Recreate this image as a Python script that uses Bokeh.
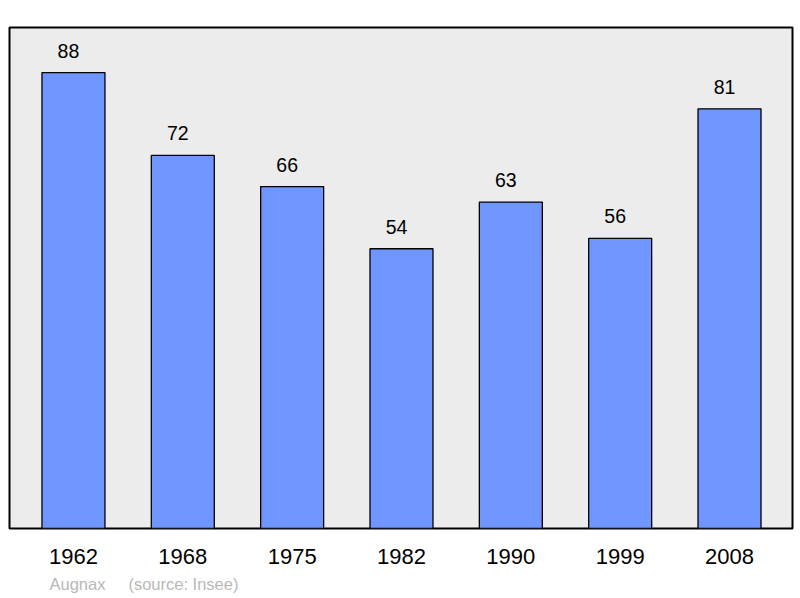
from bokeh.plotting import figure
from bokeh.models import Range1d, FixedTicker, LabelSet, ColumnDataSource, Title
from bokeh.core.properties import value
from bokeh.embed import file_html
from bokeh.resources import INLINE

# data
years = ["1962", "1968", "1975", "1982", "1990", "1999", "2008"]
population = [88, 72, 66, 54, 63, 56, 81]
pos = list(range(len(years)))

src = ColumnDataSource(data=dict(x=pos, y=population, lbl=[str(v) for v in population]))

p = figure(width=800, height=598, output_backend="svg", toolbar_location=None,
           x_range=Range1d(-0.585, 6.576), y_range=Range1d(0, 96.7),
           min_border_left=9, min_border_right=8, min_border_top=27, min_border_bottom=70)

p.background_fill_color = "#ececec"
p.border_fill_color = "white"
p.outline_line_color = "black"
p.outline_line_width = 2
p.grid.visible = False
p.yaxis.visible = False

p.vbar(x="x", top="y", width=0.576, source=src, fill_color="#6f96ff",
       line_color="black", line_width=1.3)

# value labels sit a little left of the bar centre, as in the original
labels = LabelSet(x="x", y="y", text="lbl", source=src, text_align="center",
                  text_baseline="alphabetic", x_offset=-5, y_offset=15,
                  text_font_size="19.5px", text_font=value("Liberation Sans"),
                  text_color="black")
p.add_layout(labels)

p.xaxis.ticker = FixedTicker(ticks=pos)
p.xaxis.major_label_overrides = {i: y for i, y in zip(pos, years)}
p.xaxis.major_label_text_font = "Liberation Sans"
p.xaxis.major_label_text_font_size = "22px"
p.xaxis.major_label_text_color = "black"
p.xaxis.major_label_standoff = 14
p.xaxis.major_tick_line_color = None
p.xaxis.minor_tick_line_color = None
p.xaxis.axis_line_color = None

src_note = Title(text="Augnax\u00a0\u00a0\u00a0\u00a0\u00a0(source: Insee)", align="left",
                 offset=40, text_font="Liberation Sans", text_font_size="16.5px",
                 text_color="#b8b8b8", text_font_style="normal", standoff=12)
p.add_layout(src_note, "below")

open("out.html", "w").write(file_html(p, INLINE))
